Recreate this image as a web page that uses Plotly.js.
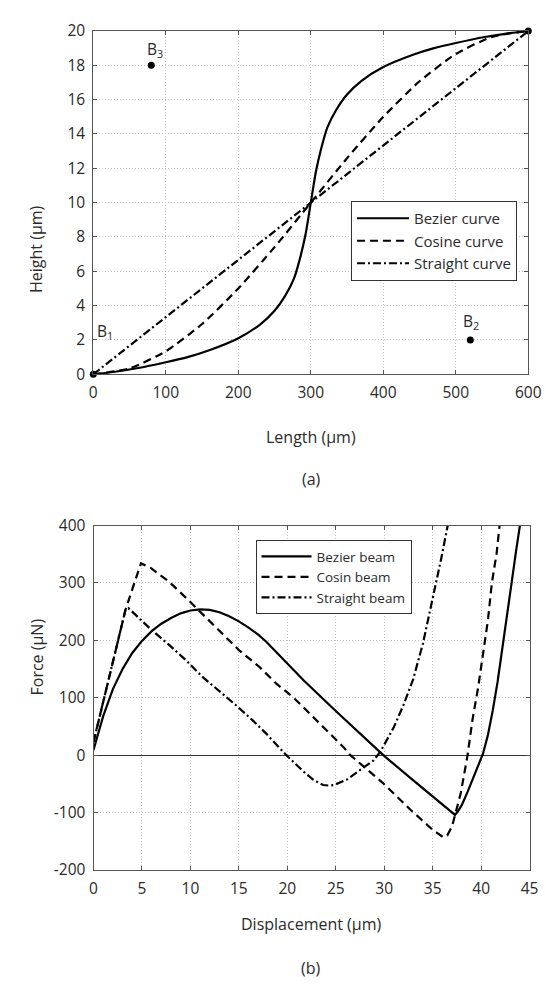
<!DOCTYPE html>
<html>
<head>
<meta charset="utf-8">
<script src="https://cdn.plot.ly/plotly-3.0.1.min.js"></script>
<style>html,body{margin:0;padding:0;background:#fff;}#chart{width:545px;height:990px;}</style>
</head>
<body>
<div id="chart"></div>
<script>
// ---------- (a) curve profiles ----------
const bezierX = [0, 30, 60, 100, 130, 160, 200, 230, 250, 265, 277, 286, 293, 300, 307, 314, 323, 335, 350, 370, 400, 440, 470, 500, 540, 570, 600];
const bezierY = [0, 0.15, 0.35, 0.7, 1.0, 1.4, 2.1, 2.9, 3.7, 4.6, 5.6, 6.9, 8.2, 10, 11.8, 13.1, 14.4, 15.4, 16.3, 17.1, 17.9, 18.6, 19.0, 19.3, 19.65, 19.85, 20];
const cosineX = [0, 50, 100, 150, 200, 250, 300, 350, 400, 450, 500, 550, 600];
const cosineY = [0, 0.34, 1.34, 2.93, 5.0, 7.41, 10, 12.59, 15.0, 17.07, 18.66, 19.66, 20];
const straightX = [0, 600];
const straightY = [0, 20];
const ctrlX = [0, 520, 80, 600];
const ctrlY = [0, 2, 18, 20];
const ctrlLabels = ['B<sub>1</sub>', 'B<sub>2</sub>', 'B<sub>3</sub>', 'B<sub>4</sub>'];
const ctrlLabelX = [2, 521, 85, 603];
const ctrlLabelY = [2.5, 3.1, 18.9, 20.75];

// ---------- (b) force-displacement ----------
const bezBeamX = [0, 1, 2, 3, 4, 5, 6, 7, 8, 9, 10, 11, 12, 13, 14, 15, 16, 17, 17.8, 21.7, 25.0, 29.9, 33.0, 36.0, 37.3, 37.6, 38.0, 38.6, 39.2, 39.7, 40.2, 40.7, 41.2, 41.7, 42.2, 42.7, 43.2, 43.6, 44.0];
const bezBeamY = [9, 68, 115, 150, 178, 199, 216, 229, 239, 247, 252, 254, 253, 249, 242, 233, 222, 210, 198, 130, 77, 0, -44, -86, -104, -98, -87, -64, -40, -19, 3, 35, 78, 128, 185, 245, 307, 355, 400];
const cosBeamX = [0, 0.8, 1.6, 2.4, 3.3, 4.1, 4.9, 5.9, 7.8, 9.8, 11.0, 12.9, 15.0, 17.1, 18.9, 20.6, 24.1, 25.8, 26.5, 29.9, 32.7, 35.0, 36.1, 36.5, 37.0, 37.9, 38.6, 39.1, 39.7, 40.2, 40.7, 41.1, 41.6, 41.9];
const cosBeamY = [23, 79, 135, 191, 253, 294, 334, 326, 302, 270, 250, 218, 183, 154, 124, 101, 43, 14, 0, -49, -95, -130, -143, -140, -124, -66, 0, 61, 119, 177, 235, 299, 352, 400];
const strBeamX = [0, 0.8, 1.6, 2.4, 3.3, 3.6, 6.0, 7.8, 9.5, 11.2, 12.9, 14.7, 16.4, 17.8, 19.9, 21.7, 22.7, 23.7, 24.3, 24.8, 26.1, 27.5, 28.9, 29.6, 31.0, 32.0, 33.0, 34.0, 34.7, 35.3, 35.85, 36.4, 36.55];
const strBeamY = [23, 79, 135, 191, 253, 256, 218, 192, 166, 137, 113, 87, 61, 38, 0, -29, -43, -52, -53, -52, -43, -26, -9, 6, 49, 88, 133, 195, 250, 294, 340, 387, 400];
const forceTicks = [-200, -100, 0, 100, 200, 300, 400];
const forceTickText = ['-200', '-100', '0', '100', '200', '300', '400'];

const FONT = 'Open Sans, Noto Sans, sans-serif';
const TXT = '#2a2a2a';
const AX = '#555';
const LW = 2.2;
const DASH = '8px,5px';
const DASHDOT = '8px,3px,2px,3px';

const traces = [
  {x: bezierX, y: bezierY, mode: 'lines', name: 'Bezier curve', line: {color: '#000', width: LW, shape: 'spline', smoothing: 0.6}, xaxis: 'x', yaxis: 'y', legend: 'legend'},
  {x: cosineX, y: cosineY, mode: 'lines', name: 'Cosine curve', line: {color: '#000', width: LW, dash: DASH, shape: 'spline', smoothing: 0.6}, xaxis: 'x', yaxis: 'y', legend: 'legend'},
  {x: straightX, y: straightY, mode: 'lines', name: 'Straight curve', line: {color: '#000', width: LW, dash: DASHDOT}, xaxis: 'x', yaxis: 'y', legend: 'legend'},
  {x: ctrlX, y: ctrlY, mode: 'markers', showlegend: false, marker: {color: '#000', size: 7}, cliponaxis: false, xaxis: 'x', yaxis: 'y'},
  {x: bezBeamX, y: bezBeamY, mode: 'lines', name: 'Bezier beam', line: {color: '#000', width: LW}, xaxis: 'x2', yaxis: 'y2', legend: 'legend2'},
  {x: cosBeamX, y: cosBeamY, mode: 'lines', name: 'Cosin beam', line: {color: '#000', width: LW, dash: DASH}, xaxis: 'x2', yaxis: 'y2', legend: 'legend2'},
  {x: strBeamX, y: strBeamY, mode: 'lines', name: 'Straight beam', line: {color: '#000', width: LW, dash: DASHDOT}, xaxis: 'x2', yaxis: 'y2', legend: 'legend2'}
];

function axisBase(extra) {
  return Object.assign({
    showline: true, linecolor: AX, linewidth: 1, mirror: 'ticks',
    ticks: 'inside', ticklen: 4, tickcolor: AX, tickwidth: 1,
    showgrid: true, gridcolor: '#c4c4c4', griddash: '1px,2px', gridwidth: 1,
    zeroline: false, tickfont: {family: FONT, size: 15.5, color: TXT},
    ticklabelstandoff: 4
  }, extra);
}

const W = 545, H = 990;
const px = v => v / W;
const py = v => 1 - v / H;

const annotations = [];
for (let i = 0; i < ctrlLabels.length; i++) {
  annotations.push({x: ctrlLabelX[i], y: ctrlLabelY[i], xref: 'x', yref: 'y', text: ctrlLabels[i], showarrow: false,
    xanchor: i === 0 ? 'left' : 'center', yanchor: 'middle', font: {family: FONT, size: 15.5, color: TXT}});
}
const titleFont = {family: FONT, size: 16, color: TXT};
annotations.push(
  {x: px(23), y: py(203), xref: 'paper', yref: 'paper', text: 'Height (µm)', textangle: -90, showarrow: false, font: titleFont},
  {x: px(311), y: py(437), xref: 'paper', yref: 'paper', text: 'Length (µm)', showarrow: false, font: titleFont},
  {x: px(311), y: py(479), xref: 'paper', yref: 'paper', text: '(a)', showarrow: false, font: titleFont},
  {x: px(23), y: py(698), xref: 'paper', yref: 'paper', text: 'Force (µN)', textangle: -90, showarrow: false, font: titleFont},
  {x: px(311), y: py(937), xref: 'paper', yref: 'paper', text: 'Displacement (µm)', showarrow: false, font: titleFont},
  {x: px(311), y: py(981), xref: 'paper', yref: 'paper', text: '(b)', showarrow: false, font: titleFont}
);

const layout = {
  width: W, height: H,
  margin: {l: 0, r: 0, t: 0, b: 0},
  paper_bgcolor: '#fff', plot_bgcolor: '#fff',
  showlegend: true,
  xaxis: axisBase({domain: [px(93.3), px(528.3)], range: [0, 600], tickvals: [0, 100, 200, 300, 400, 500, 600], anchor: 'y'}),
  yaxis: axisBase({domain: [py(374.3), py(31)], range: [0, 20], tickvals: [0, 2, 4, 6, 8, 10, 12, 14, 16, 18, 20], anchor: 'x'}),
  xaxis2: axisBase({domain: [px(93.5), px(529.6)], range: [0, 45], tickvals: [0, 5, 10, 15, 20, 25, 30, 35, 40, 45], anchor: 'y2'}),
  yaxis2: axisBase({domain: [py(870), py(525.5)], range: [-200, 400], tickvals: forceTicks, ticktext: forceTickText, anchor: 'x2',
    zeroline: true, zerolinecolor: '#333', zerolinewidth: 1}),
  legend: {x: px(351), y: py(201), xanchor: 'left', yanchor: 'top', bgcolor: '#fff', bordercolor: '#333', borderwidth: 1,
    font: {family: FONT, size: 15, color: TXT}, itemwidth: 52},
  legend2: {x: px(255.5), y: py(540), xanchor: 'left', yanchor: 'top', bgcolor: '#fff', bordercolor: '#333', borderwidth: 1,
    font: {family: FONT, size: 13.5, color: TXT}, itemwidth: 50},
  annotations: annotations
};

Plotly.newPlot('chart', traces, layout, {staticPlot: true, displayModeBar: false});
</script>
</body>
</html>
